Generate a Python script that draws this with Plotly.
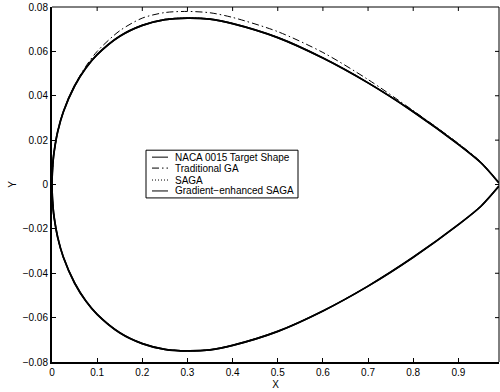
import plotly.graph_objects as go

# chordwise stations
x_st = [0, 0.0025, 0.005, 0.0125, 0.025, 0.05, 0.075, 0.1, 0.15, 0.2, 0.25, 0.3,
        0.35, 0.4, 0.5, 0.6, 0.7, 0.8, 0.9, 0.95, 0.99]
# NACA 0015 target shape (upper / lower)
target_up = [0, 0.0109, 0.0152, 0.0237, 0.0327, 0.0444, 0.0525, 0.0585, 0.0668, 0.0717,
             0.0743, 0.0750, 0.0745, 0.0725, 0.0662, 0.0570, 0.0458, 0.0328, 0.0181, 0.0098, 0.0007]
target_lo = [0, -0.0109, -0.0152, -0.0237, -0.0327, -0.0444, -0.0525, -0.0585, -0.0668, -0.0717,
             -0.0743, -0.0750, -0.0745, -0.0725, -0.0662, -0.0570, -0.0458, -0.0328, -0.0181, -0.0098, -0.0007]
# Traditional GA
ga_up = [0, 0.0109, 0.0152, 0.0237, 0.0328, 0.0447, 0.0533, 0.0600, 0.0693, 0.0750,
         0.0775, 0.0780, 0.0774, 0.0753, 0.0689, 0.0595, 0.0473, 0.0333, 0.0185, 0.0101, 0.0007]
ga_lo = target_lo
# SAGA
saga_up = [0, 0.0109, 0.0152, 0.0237, 0.0327, 0.0444, 0.0525, 0.0586, 0.0669, 0.0718,
           0.0744, 0.0751, 0.0746, 0.0726, 0.0663, 0.0571, 0.0460, 0.0331, 0.0184, 0.0100, 0.0007]
saga_lo = target_lo
# Gradient-enhanced SAGA
ges_up = target_up
ges_lo = target_lo

series_names = ["NACA 0015 Target Shape", "Traditional GA", "SAGA", "Gradient\u2212enhanced SAGA"]
x_ticks = [0, 0.1, 0.2, 0.3, 0.4, 0.5, 0.6, 0.7, 0.8, 0.9]
y_ticks = [-0.08, -0.06, -0.04, -0.02, 0, 0.02, 0.04, 0.06, 0.08]


def contour(up, lo):
    xs = x_st[::-1] + x_st[1:]
    ys = up[::-1] + lo[1:]
    return xs, ys


styles = [
    dict(color="black", width=1.7, dash="solid"),
    dict(color="black", width=1, dash="7px,3px,1.5px,3px"),
    dict(color="black", width=1, dash="1px,2px"),
    dict(color="black", width=1.7, dash="solid"),
]

fig = go.Figure()
for (up, lo), st, nm in zip([(target_up, target_lo), (ga_up, ga_lo), (saga_up, saga_lo), (ges_up, ges_lo)],
                            styles, series_names):
    xs, ys = contour(up, lo)
    fig.add_trace(go.Scatter(x=xs, y=ys, mode="lines", name=nm,
                             line=dict(color=st["color"], width=st["width"], dash=st["dash"],
                                       shape="spline", smoothing=0.8),
                             showlegend=False))

FONT = "Liberation Sans, Arial, Helvetica, sans-serif"
W, H = 500, 392
L, R, T, B = 52, 1, 5, 30
pw, ph = W - L - R, H - T - B


def px(xp):
    return (xp - L) / pw


def py(yp):
    return (H - B - yp) / ph


fig.update_layout(
    width=W, height=H,
    margin=dict(l=L, r=R, t=T, b=B, pad=0),
    paper_bgcolor="white", plot_bgcolor="white",
    font=dict(family=FONT, size=10, color="black"),
    xaxis=dict(range=[0, 0.99], tickvals=x_ticks, ticktext=[f"{v:g}" for v in x_ticks],
               ticks="inside", ticklen=4, tickcolor="black", showgrid=False, zeroline=False,
               showline=True, linecolor="black", linewidth=2, ticklabeloverflow="allow",
               title=dict(text="X", font=dict(size=10), standoff=4)),
    yaxis=dict(range=[-0.08, 0.08], tickvals=y_ticks,
               ticktext=[("\u2212" if v < 0 else "") + (f"{abs(v):.2f}" if v != 0 else "0") for v in y_ticks],
               ticks="inside", ticklen=4, tickcolor="black", showgrid=False, zeroline=False,
               showline=True, linecolor="black", linewidth=2, ticklabeloverflow="allow",
               title=dict(text="Y", font=dict(size=10), standoff=4)),
)

shapes = []
# top and right frame lines with mirrored ticks
shapes.append(dict(type="line", xref="paper", yref="paper", x0=0, x1=1, y0=1, y1=1,
                   line=dict(color="black", width=1)))
shapes.append(dict(type="line", xref="paper", yref="paper", x0=1, x1=1, y0=0, y1=1,
                   line=dict(color="black", width=1)))
for v in x_ticks[1:]:
    shapes.append(dict(type="line", xref="x", yref="paper", x0=v, x1=v, y0=1, y1=1 - 4 / ph,
                       line=dict(color="black", width=1)))
for v in y_ticks[1:-1]:
    shapes.append(dict(type="line", xref="paper", yref="y", x0=1, x1=1 - 4 / pw, y0=v, y1=v,
                       line=dict(color="black", width=1)))

# legend box
shapes.append(dict(type="rect", xref="paper", yref="paper", x0=px(146), x1=px(298), y0=py(197), y1=py(149),
                   line=dict(color="black", width=1), fillcolor="white", layer="above"))
row_y = [156, 167, 179, 190]
annotations = []
for i, (nm, st) in enumerate(zip(series_names, styles)):
    shapes.append(dict(type="line", xref="paper", yref="paper", x0=px(152), x1=px(168),
                       y0=py(row_y[i]), y1=py(row_y[i]),
                       line=dict(color="black", width=1, dash=st["dash"]), layer="above"))
    annotations.append(dict(xref="paper", yref="paper", x=px(173), y=py(row_y[i]), text=nm,
                            showarrow=False, xanchor="left", yanchor="middle",
                            font=dict(family=FONT, size=10, color="black")))

fig.update_layout(shapes=shapes, annotations=annotations)
fig.write_html("out.html")
